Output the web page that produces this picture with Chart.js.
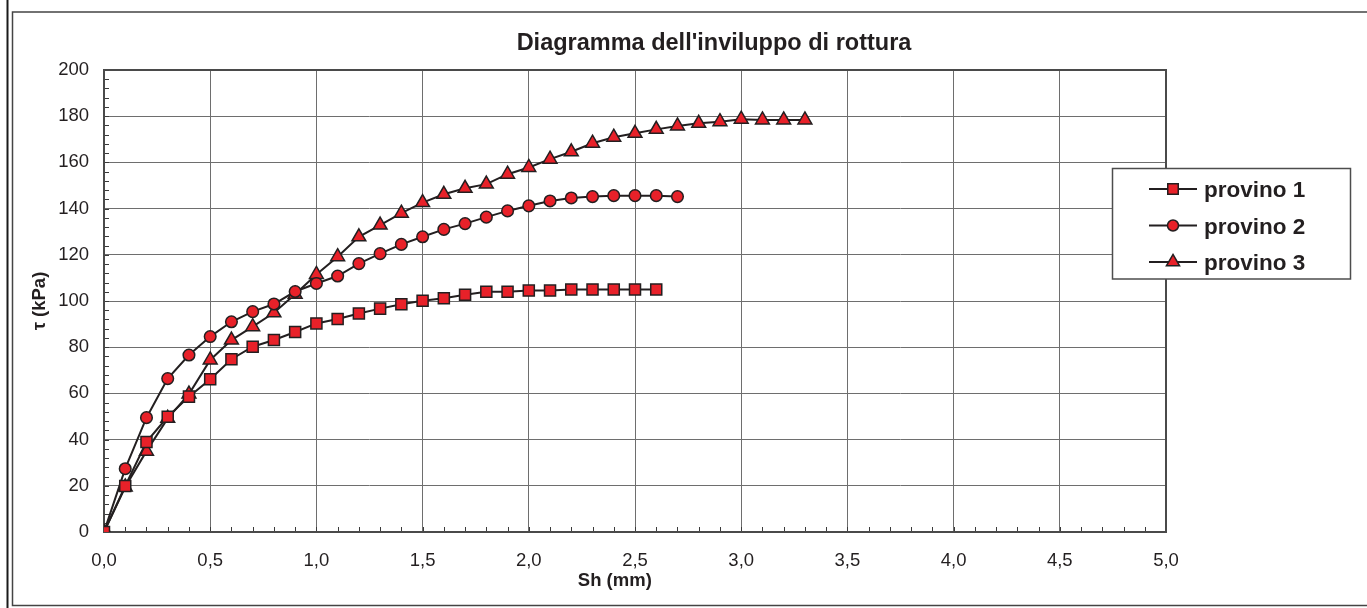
<!DOCTYPE html>
<html><head><meta charset="utf-8">
<script src="https://cdn.jsdelivr.net/npm/chart.js@4.4.0/dist/chart.umd.min.js"></script>
<style>html,body{margin:0;padding:0;background:#fff}canvas{display:block}</style>
</head><body>
<canvas id="c" width="1367" height="608"></canvas>
<script>
const chartTitle = "Diagramma dell'inviluppo di rottura";
const xAxisTitle = 'Sh (mm)';
const yAxisTitle = 'τ (kPa)';
const seriesNames = ['provino 1', 'provino 2', 'provino 3'];
const seriesStyles = ['rect', 'circle', 'triangle'];
const shMm = [0, 0.1, 0.2, 0.3, 0.4, 0.5, 0.6, 0.7, 0.8, 0.9, 1.0, 1.1, 1.2, 1.3, 1.4, 1.5, 1.6, 1.7,
              1.8, 1.9, 2.0, 2.1, 2.2, 2.3, 2.4, 2.5, 2.6, 2.7, 2.8, 2.9, 3.0, 3.1, 3.2, 3.3];
const provino1 = [0, 19.9, 39, 49.9, 58.6, 66.1, 74.8, 80.2, 83.1, 86.6, 90.3, 92.2, 94.6, 96.7, 98.6,
                  100.1, 101.2, 102.7, 104, 104, 104.5, 104.5, 105, 105, 105, 105, 105];
const provino2 = [0, 27.4, 49.5, 66.4, 76.6, 84.6, 91, 95.4, 98.7, 104.1, 107.6, 110.8, 116.2, 120.5,
                  124.5, 127.8, 131, 133.5, 136.3, 139, 141.2, 143.3, 144.6, 145.2, 145.6, 145.6, 145.6, 145.2];
const provino3 = [0, 19.5, 35, 49.2, 59.7, 74.5, 83.1, 88.9, 94.9, 102.9, 111.5, 119.2, 127.8, 132.9,
                  138, 142.6, 146.2, 148.8, 150.6, 154.9, 157.8, 161.4, 164.6, 168.3, 170.9, 172.6,
                  174.3, 175.8, 176.9, 177.6, 178.7, 178.4, 178.4, 178.4];
const xTickLabels = ['0,0', '0,5', '1,0', '1,5', '2,0', '2,5', '3,0', '3,5', '4,0', '4,5', '5,0'];
const yTickLabels = ['0', '20', '40', '60', '80', '100', '120', '140', '160', '180', '200'];

const FONT = "'Liberation Sans', Arial, Helvetica, sans-serif";
const INK = '#231F20';
const RED = '#E82129';
const RADII = [7.8, 5.8, 8];

function toPoints(vals) { return vals.map((v, i) => ({ x: shMm[i], y: v })); }

function drawMarker(ctx, style, r, x, y) {
  ctx.fillStyle = RED; ctx.strokeStyle = INK; ctx.lineWidth = 1.5;
  if (Chart.helpers && Chart.helpers.drawPoint) {
    Chart.helpers.drawPoint(ctx, { pointStyle: style, rotation: 0, radius: r, borderWidth: 1.5 }, x, y);
    return;
  }
  ctx.beginPath();
  if (style === 'rect') { const s = r * Math.SQRT1_2; ctx.rect(x - s, y - s, 2 * s, 2 * s); }
  else if (style === 'circle') { ctx.arc(x, y, r, 0, Math.PI * 2); }
  else { for (let k = 0; k < 3; k++) { const a = k * 2 * Math.PI / 3; ctx[k ? 'lineTo' : 'moveTo'](x + Math.sin(a) * r, y - Math.cos(a) * r); } ctx.closePath(); }
  ctx.fill(); ctx.stroke();
}

const framePlugin = {
  id: 'frame',
  beforeDraw(chart) {
    const ctx = chart.ctx; ctx.save();
    ctx.fillStyle = '#fff'; ctx.fillRect(0, 0, chart.width, chart.height);
    ctx.strokeStyle = '#1a1a1a'; ctx.lineWidth = 2;
    ctx.beginPath(); ctx.moveTo(7.5, 0); ctx.lineTo(7.5, chart.height); ctx.stroke();
    ctx.strokeStyle = '#444'; ctx.lineWidth = 1.5;
    ctx.strokeRect(12.5, 12, chart.width + 10, 593.5);
    ctx.restore();
  },
  beforeDatasetsDraw(chart) {
    const ctx = chart.ctx, a = chart.chartArea;
    const xs = chart.scales.x, ys = chart.scales.y;
    ctx.save();
    ctx.strokeStyle = '#3a3a3a'; ctx.lineWidth = 1;
    ctx.beginPath();
    for (let v = 0; v <= 200; v += 4) { const py = Math.round(ys.getPixelForValue(v)) + 0.5; ctx.moveTo(a.left, py); ctx.lineTo(a.left + 5, py); }
    for (let k = 0; k <= 50; k++) { const px = Math.round(xs.getPixelForValue(k / 10)) + 0.5; ctx.moveTo(px, a.bottom); ctx.lineTo(px, a.bottom - 5); }
    ctx.stroke();
    ctx.strokeStyle = '#4a4a4a'; ctx.lineWidth = 2;
    ctx.strokeRect(a.left, a.top, a.right - a.left, a.bottom - a.top);
    ctx.restore();
  },
  afterDraw(chart) {
    const ctx = chart.ctx, a = chart.chartArea;
    ctx.save();
    ctx.fillStyle = INK; ctx.textAlign = 'center'; ctx.textBaseline = 'alphabetic';
    ctx.font = 'bold 23.5px ' + FONT;
    ctx.fillText(chartTitle, 714, 50);
    ctx.font = 'bold 18.5px ' + FONT;
    ctx.fillText(xAxisTitle, a.left + 0.481 * (a.right - a.left), 586);
    // legend
    const bx = 1112.5, by = 168.5, bw = 238, bh = 110.5;
    ctx.fillStyle = '#fff'; ctx.fillRect(bx, by, bw, bh);
    ctx.strokeStyle = '#4d4d4d'; ctx.lineWidth = 1.5; ctx.strokeRect(bx, by, bw, bh);
    const baselines = [197, 233.5, 270];
    chart.data.datasets.forEach((ds, i) => {
      const cy = baselines[i] - 8;
      ctx.strokeStyle = INK; ctx.lineWidth = 2;
      ctx.beginPath(); ctx.moveTo(1149, cy); ctx.lineTo(1197, cy); ctx.stroke();
      drawMarker(ctx, seriesStyles[i], RADII[i] * 0.95, 1173, cy);
      ctx.fillStyle = INK; ctx.textAlign = 'left'; ctx.textBaseline = 'alphabetic';
      ctx.font = 'bold 22.5px ' + FONT;
      ctx.fillText(ds.label, 1204, baselines[i]);
    });
    ctx.restore();
  }
};

const datasets = [provino1, provino2, provino3].map((vals, i) => ({
  label: seriesNames[i],
  data: toPoints(vals),
  borderColor: INK,
  borderWidth: 2,
  pointStyle: seriesStyles[i],
  pointRadius: RADII[i],
  pointBackgroundColor: RED,
  pointBorderColor: INK,
  pointBorderWidth: 1.5,
  tension: 0,
  fill: false
}));

new Chart(document.getElementById('c'), {
  type: 'line',
  data: { datasets },
  options: {
    responsive: false,
    animation: false,
    devicePixelRatio: 1,
    layout: { padding: { left: 25, right: 201, top: 70, bottom: 0 } },
    plugins: { legend: { display: false }, title: { display: false }, tooltip: { enabled: false } },
    scales: {
      x: {
        type: 'linear', min: 0, max: 5,
        afterFit(s) { s.height = 76; },
        grid: { color: '#6e6e6e', lineWidth: 1, drawTicks: false },
        border: { display: false },
        ticks: {
          stepSize: 0.5, autoSkip: false, maxRotation: 0, padding: 18,
          color: INK, font: { family: FONT, size: 18.5 },
          callback: (v, idx) => xTickLabels[idx]
        }
      },
      y: {
        type: 'linear', min: 0, max: 200,
        afterFit(s) { s.width = 79; },
        grid: { color: '#6e6e6e', lineWidth: 1, drawTicks: false },
        border: { display: false },
        title: { display: true, text: yAxisTitle, color: INK, font: { family: FONT, size: 18.5, weight: 'bold' }, padding: { top: 4, bottom: 4 } },
        ticks: {
          stepSize: 20, padding: 15,
          color: INK, font: { family: FONT, size: 18.5 },
          callback: (v, idx) => yTickLabels[idx]
        }
      }
    }
  },
  plugins: [framePlugin]
});
</script>
</body></html>
